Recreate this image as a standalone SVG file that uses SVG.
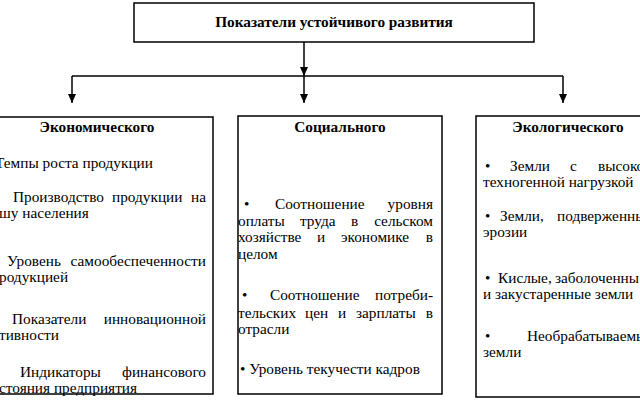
<svg xmlns="http://www.w3.org/2000/svg" width="640" height="403" viewBox="0 0 640 403">
<defs>
<marker id="ah" markerWidth="10" markerHeight="10" refX="9" refY="5" orient="auto" markerUnits="userSpaceOnUse">
<path d="M0,1 L9,5 L0,9 Z" fill="#000"/>
</marker>
</defs>
<style>
.box{fill:#fff;stroke:#000;stroke-width:1.5}
.c{stroke:#000;stroke-width:1.5;fill:none}
.t{font-size:15.3px;fill:#000}
.h{font-size:15.3px;font-weight:bold;text-anchor:middle;fill:#000}
.e{text-anchor:end}
</style>
<rect width="640" height="403" fill="#fff"/>
<g id="connectors">
<line class="c" x1="304" y1="42" x2="304" y2="76" marker-end="url(#ah)"/>
<line class="c" x1="72" y1="76" x2="563" y2="76"/>
<line class="c" x1="304" y1="76" x2="304" y2="103" marker-end="url(#ah)"/>
<line class="c" x1="72" y1="76" x2="72" y2="103" marker-end="url(#ah)"/>
<line class="c" x1="563" y1="76" x2="563" y2="103" marker-end="url(#ah)"/>
</g>
<g id="top" font-family="Liberation Serif, Times New Roman, serif">
<rect class="box" x="134" y="3" width="400" height="39"/>
<text class="h" x="334" y="27">Показатели устойчивого развития</text>
</g>
<g id="econ" font-family="Liberation Serif, Times New Roman, serif">
<rect class="box" x="-5" y="117" width="218" height="277"/>
<text class="h" x="97" y="132">Экономического</text>
<text class="t" x="-5" y="168">Темпы роста продукции</text>
<text class="t" y="202"><tspan x="13">Производство</tspan><tspan x="112">продукции</tspan><tspan class="e" x="206">на</tspan></text>
<text class="t" x="-1" y="218">шу населения</text>
<text class="t" y="266"><tspan x="7">Уровень</tspan><tspan class="e" x="206">самообеспеченности</tspan></text>
<text class="t" x="-1" y="282">родукцией</text>
<text class="t" y="324"><tspan x="12">Показатели</tspan><tspan class="e" x="206">инновационной</tspan></text>
<text class="t" x="-1" y="340">тивности</text>
<text class="t" y="377"><tspan x="20">Индикаторы</tspan><tspan class="e" x="206">финансового</tspan></text>
<text class="t" x="-1" y="393">стояния предприятия</text>
</g>
<g id="social" font-family="Liberation Serif, Times New Roman, serif">
<rect class="box" x="238" y="116" width="204" height="278"/>
<text class="h" x="340" y="132">Социального</text>
<text class="t" y="209"><tspan x="244">•</tspan><tspan x="275">Соотношение</tspan><tspan class="e" x="433">уровня</tspan></text>
<text class="t" y="226"><tspan x="238">оплаты</tspan><tspan x="300">труда</tspan><tspan x="351">в</tspan><tspan class="e" x="433">сельском</tspan></text>
<text class="t" y="242"><tspan x="238">хозяйстве</tspan><tspan x="317">и</tspan><tspan x="341">экономике</tspan><tspan class="e" x="433">в</tspan></text>
<text class="t" x="238" y="259">целом</text>
<text class="t" y="300"><tspan x="242">•</tspan><tspan x="270">Соотношение</tspan><tspan class="e" x="433">потреби-</tspan></text>
<text class="t" y="318"><tspan x="238">тельских</tspan><tspan x="305">цен</tspan><tspan x="338">и</tspan><tspan x="356">зарплаты</tspan><tspan class="e" x="433">в</tspan></text>
<text class="t" x="238" y="334">отрасли</text>
<text class="t" x="240" y="374">• Уровень текучести кадров</text>
</g>
<g id="eco" font-family="Liberation Serif, Times New Roman, serif">
<rect class="box" x="476" y="116" width="170" height="281"/>
<text class="h" x="568" y="132">Экологического</text>
<text class="t" y="171"><tspan x="485">•</tspan><tspan x="510">Земли</tspan><tspan x="570">с</tspan><tspan x="598">высоко</tspan></text>
<text class="t" x="483" y="187">техногенной нагрузкой</text>
<text class="t" y="221"><tspan x="485">•</tspan><tspan x="500">Земли,</tspan><tspan x="557">подверженны</tspan></text>
<text class="t" x="483" y="237">эрозии</text>
<text class="t" y="283"><tspan x="485">•</tspan><tspan x="498">Кислые,</tspan><tspan x="555">заболоченны</tspan></text>
<text class="t" x="483" y="299">и закустаренные земли</text>
<text class="t" y="341"><tspan x="485">•</tspan><tspan x="527">Необрабатываемы</tspan></text>
<text class="t" x="483" y="357">земли</text>
</g>
</svg>
